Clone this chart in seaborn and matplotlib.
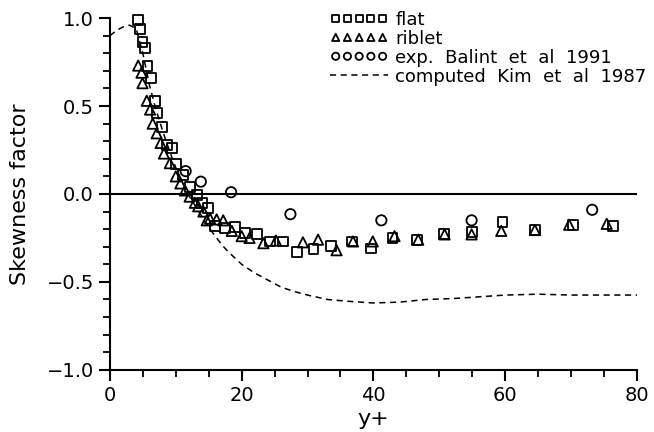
import matplotlib
matplotlib.use("Agg")
import matplotlib.pyplot as plt
import seaborn as sns
import pandas as pd
from matplotlib.ticker import MultipleLocator, FuncFormatter

# flat plate data (squares)
flat_x = [4.3, 4.55, 4.95, 5.3, 5.7, 6.2, 6.8, 7.2, 7.9, 8.7, 9.4, 10.0, 11.1, 12.2,
          13.2, 14.0, 14.9, 15.9, 17.5, 19.0, 20.5, 22.3, 24.3, 26.3, 28.4, 30.9,
          33.6, 36.7, 39.6, 42.9, 46.6, 50.7, 54.9, 59.6, 64.5, 70.3, 76.4]
flat_y = [0.99, 0.94, 0.865, 0.83, 0.73, 0.66, 0.53, 0.46, 0.38, 0.28, 0.26, 0.17, 0.11, 0.04,
          -0.005, -0.05, -0.08, -0.18, -0.195, -0.19, -0.22, -0.23, -0.27, -0.27, -0.33, -0.315,
          -0.295, -0.27, -0.31, -0.25, -0.26, -0.23, -0.215, -0.16, -0.205, -0.175, -0.18]

# riblet data (triangles)
riblet_x = [4.3, 4.8, 4.95, 5.6, 6.1, 6.5, 7.1, 7.7, 8.2, 9.1, 10.0, 10.7, 11.4, 12.1,
            12.9, 13.4, 14.2, 14.7, 15.2, 16.2, 17.2, 18.5, 20.0, 21.2, 23.3, 25.2,
            29.3, 31.6, 34.4, 36.9, 39.9, 43.2, 46.8, 50.8, 54.9, 59.4, 64.5, 69.7, 75.4]
riblet_y = [0.73, 0.69, 0.63, 0.53, 0.48, 0.40, 0.345, 0.29, 0.23, 0.175, 0.10, 0.06, 0.02, -0.015,
            -0.05, -0.07, -0.10, -0.15, -0.14, -0.145, -0.15, -0.21, -0.24, -0.25, -0.28, -0.265,
            -0.275, -0.26, -0.32, -0.27, -0.27, -0.24, -0.26, -0.23, -0.23, -0.21, -0.205, -0.175, -0.17]

# Balint et al 1991 (circles)
balint_x = [11.5, 13.8, 18.4, 27.4, 41.2, 54.9, 73.2]
balint_y = [0.13, 0.07, 0.01, -0.115, -0.15, -0.15, -0.09]

# Kim et al 1987 DNS (dashed)
kim_x = [0, 1, 2, 3, 4, 5, 6, 7, 8, 9, 10, 11, 12, 13, 14, 15, 16, 17, 18, 20, 22, 24, 26,
         28, 30, 33, 36, 40, 44, 48, 52, 56, 60, 65, 70, 75, 80]
kim_y = [0.90, 0.93, 0.95, 0.96, 0.94, 0.80, 0.62, 0.48, 0.36, 0.25, 0.15, 0.07, -0.01, -0.07,
         -0.13, -0.19, -0.24, -0.29, -0.33, -0.40, -0.45, -0.49, -0.53, -0.555, -0.575, -0.60,
         -0.61, -0.62, -0.615, -0.60, -0.595, -0.585, -0.575, -0.57, -0.575, -0.575, -0.575]

flat = pd.DataFrame({"y+": flat_x, "S": flat_y})
riblet = pd.DataFrame({"y+": riblet_x, "S": riblet_y})
balint = pd.DataFrame({"y+": balint_x, "S": balint_y})
kim = pd.DataFrame({"y+": kim_x, "S": kim_y})

sns.set_style("ticks")
plt.rcParams["font.family"] = ["DejaVu Sans"]
plt.rcParams["text.color"] = "black"
plt.rcParams["axes.labelcolor"] = "black"
plt.rcParams["xtick.color"] = "black"
plt.rcParams["ytick.color"] = "black"

fig = plt.figure(figsize=(6.54, 4.32), dpi=100)
ax = fig.add_axes([0.168, 0.144, 0.806, 0.814])

mk = dict(facecolor="none", edgecolor="black", linewidth=1.3, clip_on=False)
sns.scatterplot(x="y+", y="S", data=flat, marker="s", s=50, label="flat", ax=ax, **mk)
sns.scatterplot(x="y+", y="S", data=riblet, marker="^", s=55, label="riblet", ax=ax, **mk)
sns.scatterplot(x="y+", y="S", data=balint, marker="o", s=55,
                label="exp.  Balint  et  al  1991", ax=ax, **mk)
sns.lineplot(x="y+", y="S", data=kim, color="black", linestyle=(0, (4, 3)), linewidth=1.1,
             label="computed  Kim  et  al  1987", ax=ax)

ax.axhline(0, color="black", linewidth=1.5, zorder=0)

ax.set_xlim(0, 80)
ax.set_ylim(-1, 1)
ax.xaxis.set_major_locator(MultipleLocator(20))
ax.xaxis.set_minor_locator(MultipleLocator(5))
ax.yaxis.set_major_locator(MultipleLocator(0.5))
ax.yaxis.set_minor_locator(MultipleLocator(0.1))
ax.yaxis.set_major_formatter(FuncFormatter(lambda v, p: f"{v:.1f}".replace("-", "\u2212")))
ax.tick_params(which="major", length=8, width=1.5, labelsize=14, color="black", labelcolor="black")
ax.tick_params(which="minor", length=5, width=1.3, color="black")
for side in ["top", "right"]:
    ax.spines[side].set_visible(False)
for side in ["left", "bottom"]:
    ax.spines[side].set_linewidth(1.5)
    ax.spines[side].set_color("black")

ax.set_xlabel("y+", fontsize=16, labelpad=3, color="black")
ax.set_ylabel("Skewness factor", fontsize=16, labelpad=12, color="black")

ax.legend(loc="upper left", bbox_to_anchor=(0.505, 0.975), bbox_transform=fig.transFigure,
          frameon=False, fontsize=13, scatterpoints=5, scatteryoffsets=[0.5], markerscale=0.7,
          handlelength=3.2, handletextpad=0.4, labelspacing=0.05, borderpad=0, borderaxespad=0,
          labelcolor="black")

fig.savefig("out.png", dpi=100)
